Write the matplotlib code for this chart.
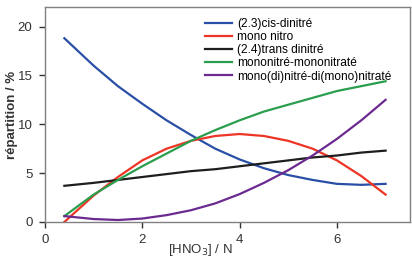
import matplotlib.pyplot as plt

plt.rcParams['font.family'] = ['Liberation Sans', 'DejaVu Sans']

hno3 = [0.4, 1.0, 1.5, 2.0, 2.5, 3.0, 3.5, 4.0, 4.5, 5.0, 5.5, 6.0, 6.5, 7.0]

cis_dinitre = [18.8, 16.0, 13.9, 12.1, 10.4, 8.9, 7.5, 6.4, 5.5, 4.8, 4.3, 3.9, 3.8, 3.9]
mono_nitro = [0.0, 2.7, 4.6, 6.3, 7.5, 8.3, 8.8, 9.0, 8.8, 8.3, 7.5, 6.3, 4.7, 2.8]
trans_dinitre = [3.7, 4.0, 4.3, 4.6, 4.9, 5.2, 5.4, 5.7, 6.0, 6.3, 6.6, 6.8, 7.1, 7.3]
mononitre_mononitrate = [0.6, 2.8, 4.3, 5.7, 7.0, 8.3, 9.4, 10.4, 11.3, 12.0, 12.7, 13.4, 13.9, 14.4]
mono_di_nitrate = [0.6, 0.3, 0.2, 0.35, 0.7, 1.2, 1.9, 2.85, 4.0, 5.3, 6.8, 8.5, 10.4, 12.5]

labels = ["(2.3)cis-dinitré", "mono nitro", "(2.4)trans dinitré",
          "mononitré-mononitraté", "mono(di)nitré-di(mono)nitraté"]
colors = ["#2a4fa6", "#ee3424", "#1e1e1e", "#2b9e4e", "#6b2a8f"]
series = [cis_dinitre, mono_nitro, trans_dinitre, mononitre_mononitrate, mono_di_nitrate]

fig = plt.figure(figsize=(4.12, 2.59), dpi=100)
ax = fig.add_axes([0.109, 0.143, 0.886, 0.83])

for s, lab, c in zip(series, labels, colors):
    ax.plot(hno3, s, color=c, lw=1.6, label=lab)

ax.set_xlim(0, 7.5)
ax.set_ylim(0, 22)
ax.set_xticks([0, 2, 4, 6])
ax.set_yticks([0, 5, 10, 15, 20])
ax.tick_params(labelsize=9.5, colors="#333333", length=4, width=1, pad=5)
for sp in ax.spines.values():
    sp.set_color("#808080")
    sp.set_linewidth(1)

ax.set_xlabel("[HNO$_3$] / N", fontsize=9.5, color="#333333")
ax.xaxis.set_label_coords(0.425, -0.095, transform=ax.transAxes)
ax.xaxis.label.set_va("top")
ax.set_ylabel("répartition / %", fontsize=9.5, fontweight="bold", color="#333333")
ax.yaxis.set_label_coords(-0.075, 0.5)

ax.legend(loc="upper left", bbox_to_anchor=(0.425, 0.972), frameon=False, fontsize=8.6,
          handlelength=2.3, handletextpad=0.4, labelspacing=0.1, borderaxespad=0)

fig.savefig("out.png", dpi=100)
